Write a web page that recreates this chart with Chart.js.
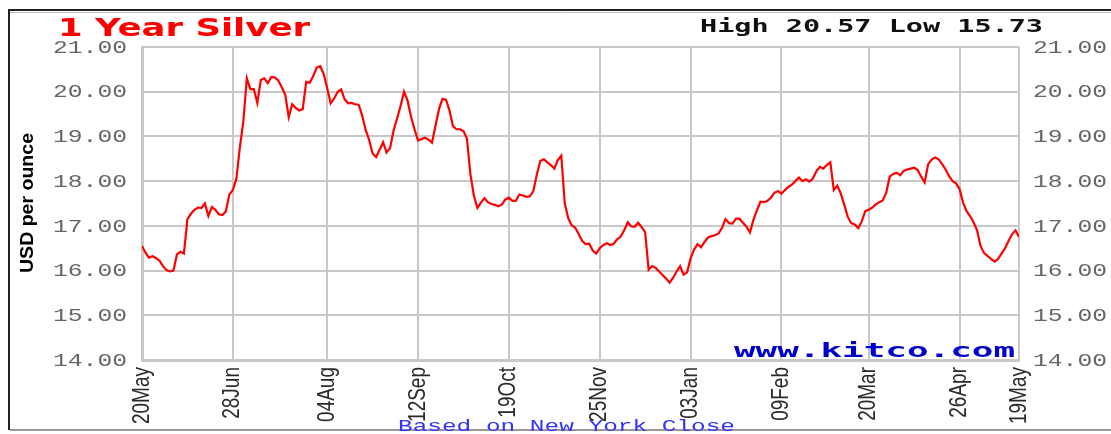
<!DOCTYPE html>
<html>
<head>
<meta charset="utf-8">
<title>1 Year Silver</title>
<script src="https://cdn.jsdelivr.net/npm/chart.js@4.4.1/dist/chart.umd.min.js"></script>
<style>
  html, body { margin: 0; padding: 0; background: #fff; }
  #chart { display: block; }
</style>
</head>
<body>
<canvas id="chart" width="1111" height="434"></canvas>
<script>
// Silver, New York close, one value per trading day (20 May .. 19 May)
const silverClose = [
  16.55, 16.40, 16.29, 16.32, 16.28, 16.22, 16.10, 16.01, 15.98, 16.00,
  16.36, 16.42, 16.38, 17.15, 17.27, 17.36, 17.41, 17.40, 17.50, 17.22,
  17.42, 17.36, 17.26, 17.24, 17.32, 17.70, 17.80, 18.05, 18.75, 19.33,
  20.30, 20.06, 20.06, 19.75, 20.26, 20.30, 20.19, 20.33, 20.32, 20.25,
  20.10, 19.93, 19.43, 19.72, 19.64, 19.58, 19.61, 20.22, 20.20, 20.35,
  20.54, 20.57, 20.40, 20.08, 19.74, 19.85, 20.00, 20.05, 19.83, 19.74,
  19.75, 19.72, 19.71, 19.47, 19.15, 18.92, 18.62, 18.54, 18.70, 18.87,
  18.64, 18.74, 19.13, 19.40, 19.68, 20.00, 19.80, 19.44, 19.16, 18.91,
  18.94, 18.97, 18.93, 18.86, 19.24, 19.61, 19.84, 19.82, 19.58, 19.23,
  19.16, 19.16, 19.12, 18.95, 18.15, 17.67, 17.40, 17.52, 17.62, 17.53,
  17.49, 17.47, 17.44, 17.48, 17.59, 17.63, 17.56, 17.56, 17.70, 17.68,
  17.65, 17.66, 17.78, 18.15, 18.45, 18.49, 18.42, 18.36, 18.28, 18.47,
  18.57, 17.50, 17.17, 17.01, 16.96, 16.81, 16.66, 16.59, 16.60, 16.45,
  16.38, 16.50, 16.57, 16.61, 16.57, 16.60, 16.70, 16.76, 16.90, 17.08,
  16.99, 16.98, 17.07, 16.97, 16.86, 16.02, 16.10, 16.06, 15.98, 15.90,
  15.82, 15.73, 15.84, 15.98, 16.10, 15.91, 15.96, 16.27, 16.47, 16.59,
  16.52, 16.64, 16.74, 16.77, 16.79, 16.83, 16.95, 17.15, 17.06, 17.05,
  17.16, 17.16, 17.07, 16.98, 16.85, 17.14, 17.35, 17.54, 17.53, 17.56,
  17.63, 17.74, 17.78, 17.72, 17.80, 17.87, 17.92, 18.00, 18.08, 18.00,
  18.04, 17.99, 18.06, 18.22, 18.32, 18.28, 18.36, 18.42, 17.80, 17.90,
  17.72, 17.47, 17.20, 17.06, 17.03, 16.95, 17.10, 17.33, 17.36, 17.41,
  17.48, 17.53, 17.57, 17.74, 18.10, 18.16, 18.19, 18.13, 18.23, 18.26,
  18.28, 18.30, 18.25, 18.10, 17.97, 18.38, 18.48, 18.53, 18.49, 18.38,
  18.26, 18.11, 18.00, 17.95, 17.82, 17.52, 17.33, 17.22, 17.08, 16.90,
  16.55, 16.39, 16.33, 16.26, 16.20, 16.26, 16.38, 16.50, 16.66, 16.81,
  16.90, 16.75
];

const dateLabels = ['20May', '28Jun', '04Aug', '12Sep', '19Oct', '25Nov', '03Jan', '09Feb', '20Mar', '26Apr', '19May'];
const dateTickIndex = [0, 26, 53, 79, 105, 131, 157, 183, 208, 234, 251];
const priceTicks = [14, 15, 16, 17, 18, 19, 20, 21];

const titleText = '1 Year Silver';
const rangeText = 'High 20.57 Low 15.73';
const axisTitle = 'USD per ounce';
const siteText = 'www.kitco.com';
const footText = 'Based on New York Close';

const GRID = '#c8c8c8';

function drawText(ctx, str, opt) {
    ctx.save();
    ctx.font = opt.font;
    ctx.fillStyle = opt.color;
    ctx.textAlign = opt.align || 'left';
    ctx.textBaseline = opt.baseline || 'alphabetic';
    ctx.translate(opt.x, opt.y);
    if (opt.rotate) ctx.rotate(opt.rotate);
    let along = opt.along || 1;
    if (opt.width) along = opt.width / ctx.measureText(str).width;
    ctx.scale(along, opt.cross || 1);
    ctx.fillText(str, 0, 0);
    ctx.restore();
}

const kitcoDecor = {
    id: 'kitcoDecor',
    beforeDraw(chart) {
        const ctx = chart.ctx;
        ctx.save();
        ctx.fillStyle = '#fff';
        ctx.fillRect(0, 0, chart.width, chart.height);
        // outer frame
        ctx.strokeStyle = '#222';
        ctx.lineWidth = 2;
        ctx.beginPath();
        ctx.moveTo(1111, 10);
        ctx.lineTo(9, 10);
        ctx.lineTo(9, 430);
        ctx.stroke();
        ctx.strokeStyle = '#9a9a9a';
        ctx.beginPath();
        ctx.moveTo(10, 430);
        ctx.lineTo(1111, 430);
        ctx.stroke();
        ctx.strokeStyle = '#bbb';
        ctx.lineWidth = 1;
        ctx.beginPath();
        ctx.moveTo(10, 12.5);
        ctx.lineTo(1111, 12.5);
        ctx.stroke();
        ctx.restore();
    },
    afterDraw(chart) {
        const ctx = chart.ctx;
        const xs = chart.scales.x;
        const ys = chart.scales.y;

        drawText(ctx, titleText, { font: 'bold 25px "DejaVu Sans"', color: '#ff0000', x: 58, y: 36, width: 252 });
        drawText(ctx, rangeText, { font: 'bold 18px "DejaVu Sans Mono"', color: '#111', x: 700, y: 32, width: 343 });

        priceTicks.forEach(v => {
            const y = ys.getPixelForValue(v);
            const label = v.toFixed(2);
            drawText(ctx, label, { font: '18px "Liberation Mono"', color: '#666', x: 127, y: y + 1, align: 'right', baseline: 'middle', width: 74 });
            drawText(ctx, label, { font: '18px "Liberation Mono"', color: '#666', x: 1033, y: y + 1, align: 'left', baseline: 'middle', width: 74 });
        });

        dateLabels.forEach((label, i) => {
            const x = xs.getPixelForValue(dateTickIndex[i]);
            drawText(ctx, label, { font: '19px "Liberation Sans"', color: '#2a2a2a', x: x, y: 367, rotate: -Math.PI / 2, align: 'right', baseline: 'middle', cross: 1.25 });
        });

        drawText(ctx, axisTitle, { font: 'bold 19px "Liberation Sans Narrow", "Liberation Sans"', color: '#000', x: 33, y: 203, rotate: -Math.PI / 2, align: 'center', baseline: 'alphabetic', width: 140 });

        drawText(ctx, siteText, { font: 'bold 20px "DejaVu Sans Mono"', color: '#0000cc', x: 734, y: 357, width: 281 });
        drawText(ctx, footText, { font: '16px "Liberation Mono"', color: '#3333ff', x: 398, y: 431, width: 337 });
    }
};

const ctx = document.getElementById('chart').getContext('2d');
new Chart(ctx, {
    type: 'line',
    data: {
        datasets: [{
            data: silverClose.map((v, i) => ({ x: i, y: v })),
            borderColor: '#ff0000',
            borderWidth: 2.2,
            pointRadius: 0,
            tension: 0,
            fill: false
        }]
    },
    options: {
        responsive: false,
        animation: false,
        devicePixelRatio: 1,
        layout: { padding: { left: 142, right: 92, top: 47, bottom: 74 } },
        plugins: {
            legend: { display: false },
            tooltip: { enabled: false },
            title: { display: false }
        },
        scales: {
            x: {
                type: 'linear',
                min: 0,
                max: silverClose.length - 1,
                afterBuildTicks: scale => {
                    scale.ticks = dateTickIndex.map(v => ({ value: v }));
                },
                ticks: { display: false },
                grid: { color: GRID, lineWidth: 2, drawTicks: false },
                border: { color: GRID, width: 3 }
            },
            y: {
                min: 14,
                max: 21,
                afterBuildTicks: scale => {
                    scale.ticks = priceTicks.map(v => ({ value: v }));
                },
                ticks: { display: false },
                grid: { color: GRID, lineWidth: 2, drawTicks: false },
                border: { color: GRID, width: 3 }
            }
        }
    },
    plugins: [kitcoDecor]
});
</script>
</body>
</html>
